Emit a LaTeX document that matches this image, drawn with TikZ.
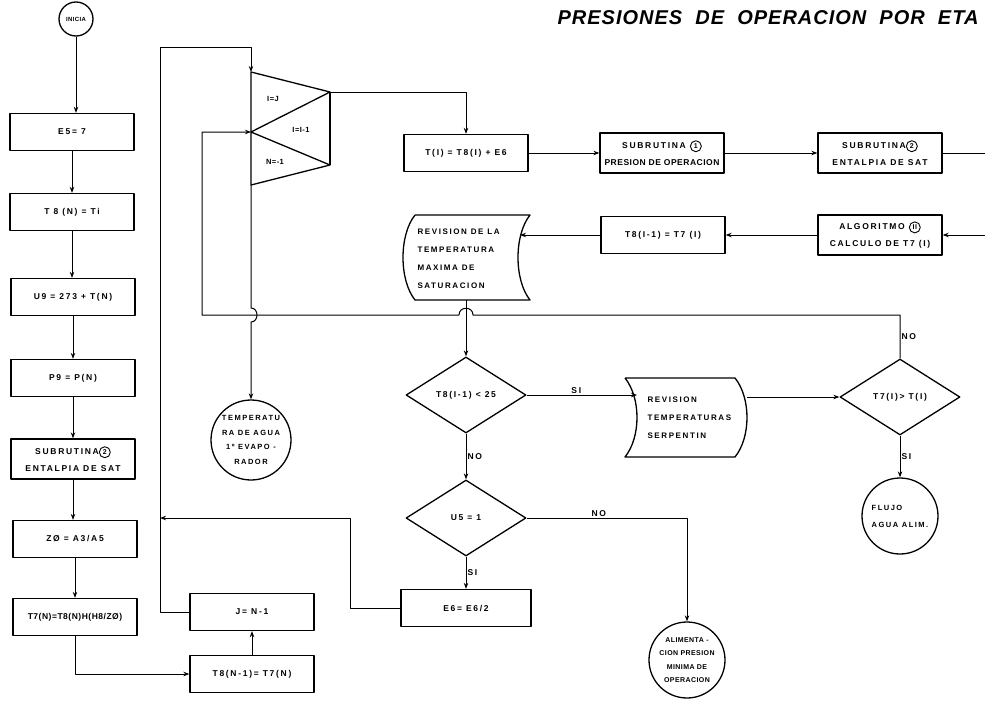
\documentclass[tikz,border=0pt]{standalone}
\usepackage{fontspec}
\setmainfont{Liberation Sans}
\newfontfamily\lblfont[LetterSpace=20]{Liberation Sans}
\newfontfamily\lbltight[LetterSpace=6]{Liberation Sans}
\newfontfamily\titlefont[LetterSpace=5]{Liberation Sans}
\usetikzlibrary{arrows.meta,shapes.geometric}
\newcommand\circnum[1]{\tikz[baseline=(cn.base)]\node[circle,draw,line width=0.9pt,inner sep=0pt,minimum size=11pt,minimum width=11pt,minimum height=11pt,align=center,font=\lbltight\bfseries\fontsize{7}{8}\selectfont](cn){#1};}
\begin{document}
\begin{tikzpicture}[x=1pt,y=-1pt,line join=round,
  lbl/.style={font=\lblfont\bfseries\fontsize{8.5}{17}\selectfont},
  box/.style={draw,line width=1.3pt,minimum width=124pt,minimum height=37pt,inner sep=1pt,lbl,align=center},
  dia/.style={draw,diamond,aspect=1.6,line width=1.3pt,minimum width=120pt,minimum height=76pt,inner sep=1pt,lbl},
  term/.style={draw,circle,line width=1.3pt,inner sep=0pt,align=center},
  shp/.style={line width=1.3pt},
  conn/.style={line width=1pt,-{Stealth[length=6pt,width=4.5pt]}},
  wire/.style={line width=1pt},
  tag/.style={lbl,inner sep=1pt}]
\useasboundingbox (0,0) rectangle (985,707);

% title
\node[anchor=east,font=\titlefont\bfseries\itshape\fontsize{20}{23}\selectfont] (title) at (982,18) {PRESIONES\ \ DE\ \ OPERACION\ \ POR\ \ ETA};

% left column
\node[term,minimum size=34pt,font=\lbltight\bfseries\fontsize{6}{7}\selectfont] (ini) at (76,19) {INICIA};
\node[box] (b1) at (72,132) {E5= 7};
\node[box] (b2) at (72,212) {T 8 (N) = Ti};
\node[box] (b3) at (73,297) {U9 = 273 + T(N)};
\node[box] (b4) at (73,378) {P9 = P(N)};
\node[box,minimum height=40pt] (b5) at (73,459) {SUBRUTINA\circnum{2}\\ENTALPIA DE SAT};
\node[box] (b6) at (75,539) {ZØ = A3/A5};
\node[box,font=\lbltight\bfseries\fontsize{8.5}{17}\selectfont] (b7) at (75,617) {T7(N)=T8(N)H(H8/ZØ)};
\node[box] (b8) at (252,674) {T8(N-1)= T7(N)};
\node[box] (b9) at (252,612) {J= N-1};

\draw[conn] (ini.south) -- (ini.south |- b1.north);
\draw[conn] (b1) -- (b2);
\draw[conn] (b2.south) -- (b2.south |- b3.north);
\draw[conn] (b3) -- (b4);
\draw[conn] (b4) -- (b5);
\draw[conn] (b5.south) -- (b5.south |- b6.north);
\draw[conn] (b6) -- (b7);
\draw[conn] (b7.south) |- (b8.west);
\draw[conn] (b8) -- (b9);

% triangle selector
\coordinate (tA) at (251,72);
\coordinate (tR1) at (330,92);
\coordinate (tM) at (251,132);
\coordinate (tR2) at (330,165);
\coordinate (tB) at (251,185);
\draw[shp] (tA) -- (tR1) -- (tM) -- (tR2) -- (tB) -- cycle;
\draw[shp] (tR1) -- (tR2);
\node[tag,font=\lbltight\bfseries\fontsize{7.5}{8}\selectfont] (lt1) at (273,99) {I=J};
\node[tag,font=\lbltight\bfseries\fontsize{7.5}{8}\selectfont] (lt2) at (301,130) {I=I-1};
\node[tag,font=\lbltight\bfseries\fontsize{7.5}{8}\selectfont] (lt3) at (275,162) {N=-1};

% outer loop
\coordinate (lpA) at (160,612);
\coordinate (lpB) at (160,47);
\coordinate (lpC) at (251,47);
\draw[conn] (b9.west) -- (lpA) -- (lpB) -- (lpC) -- (tA);

% top row
\node[box] (bt) at (466,153) {T(I) = T8(I) + E6};
\node[box,minimum height=40pt] (bs1) at (662,153) {SUBRUTINA \circnum{1}\\{\lbltight PRESION DE OPERACION}};
\node[box,minimum height=40pt] (bs2) at (880,153) {SUBRUTINA\circnum{2}\\ENTALPIA DE SAT};
\coordinate (tq) at (466,92);
\draw[conn] (tR1) -- (tq) -- (bt.north);
\draw[conn] (bt) -- (bs1);
\draw[conn] (bs1) -- (bs2);
\coordinate (eR1) at (986,153);
\draw[wire] (bs2.east) -- (eR1);

% second row
\node[box,minimum height=40pt] (alg) at (880,235) {ALGORITMO \circnum{II}\\CALCULO DE T7 (I)};
\node[box] (bt8) at (663,235) {T8(I-1) = T7 (I)};
\coordinate (eR2) at (986,235);
\draw[conn] (eR2) -- (alg.east);
\draw[conn] (alg) -- (bt8);

% stored-data shape: revision temperatura maxima
\draw[shp] (415,215) -- (530,215) .. controls (514,235) and (514,280) .. (530,300) -- (415,300) .. controls (399,280) and (399,235) .. (415,215);
\node[lbl,align=left,anchor=west,font=\lblfont\bfseries\fontsize{8}{18}\selectfont] (rev1) at (414,259) {REVISION DE LA\\TEMPERATURA\\MAXIMA DE\\SATURACION};
\coordinate (rev1e) at (520,235);
\coordinate (rev1s) at (466,300);
\draw[conn] (bt8.west) -- (rev1e);

% decision 1
\node[dia] (d1) at (466,395) {T8(I-1) < 25};
\draw[conn] (rev1s) -- (d1.north);

% revision temperaturas serpentin
\draw[shp] (625,378) -- (735,378) .. controls (751,398) and (751,437) .. (735,457) -- (625,457) .. controls (641,437) and (641,398) .. (625,378);
\node[lbl,align=left,anchor=west,font=\lblfont\bfseries\fontsize{8}{18}\selectfont] (rts) at (644,418) {REVISION\\TEMPERATURAS\\SERPENTIN};
\coordinate (rtsW) at (637,395);
\coordinate (rtsE) at (747,397);
\draw[conn] (d1.east) -- node[tag,above,pos=0.45] (si1) {SI} (rtsW);

% decision 3
\node[dia] (d3) at (900,397) {T7(I)> T(I)};
\draw[conn] (rtsE) -- (d3.west);
\node[term,minimum size=76pt,align=left,font=\lblfont\bfseries\fontsize{7.5}{17}\selectfont] (cflujo) at (900,516) {FLUJO\\AGUA ALIM.};
\draw[conn] (d3.south) -- node[tag,right] (si3) {SI} (cflujo.north);

% return loop (NO)
\coordinate (rA) at (900,315);
\coordinate (rB) at (473,315);
\coordinate (rC) at (459,315);
\coordinate (rD) at (202,315);
\coordinate (rE) at (202,132);
\draw[conn] (d3.north) -- node[tag,right] (no3) {NO} (rA) -- (rB) .. controls (473,306) and (459,306) .. (rC) -- (rD) -- (rE) -- (tM);

% vertical from selector to temperature circle, hopping over loop line
\node[term,minimum size=80pt,font=\lblfont\bfseries\fontsize{7.5}{14.5}\selectfont] (ctemp) at (251,440) {TEMPERATU\\RA DE AGUA\\1º EVAPO -\\RADOR};
\coordinate (hA) at (251,308);
\coordinate (hB) at (251,322);
\draw[conn] (tB) -- (hA) .. controls (259,308) and (259,322) .. (hB) -- (ctemp.north);

% decision 2
\node[dia] (d2) at (466,518) {U5 = 1};
\draw[conn] (d1.south) -- node[tag,right] (no1) {NO} (d2.north);
\node[term,minimum size=76pt,font=\lbltight\bfseries\fontsize{7}{13.5}\selectfont] (calim) at (687,660) {ALIMENTA -\\CION PRESION\\MINIMA DE\\OPERACION};
\coordinate (nA) at (687,518);
\draw[conn] (d2.east) -- node[tag,above,pos=0.45] (no2) {NO} (nA) -- (calim.north);

\node[box,minimum width=130pt] (be6) at (466,608) {E6= E6/2};
\draw[conn] (d2.south) -- node[tag,right] (si2) {SI} (be6.north);
\coordinate (eA) at (350,608);
\coordinate (eB) at (350,518);
\coordinate (eC) at (160,518);
\draw[conn] (be6.west) -- (eA) -- (eB) -- (eC);
\end{tikzpicture}
\end{document}
